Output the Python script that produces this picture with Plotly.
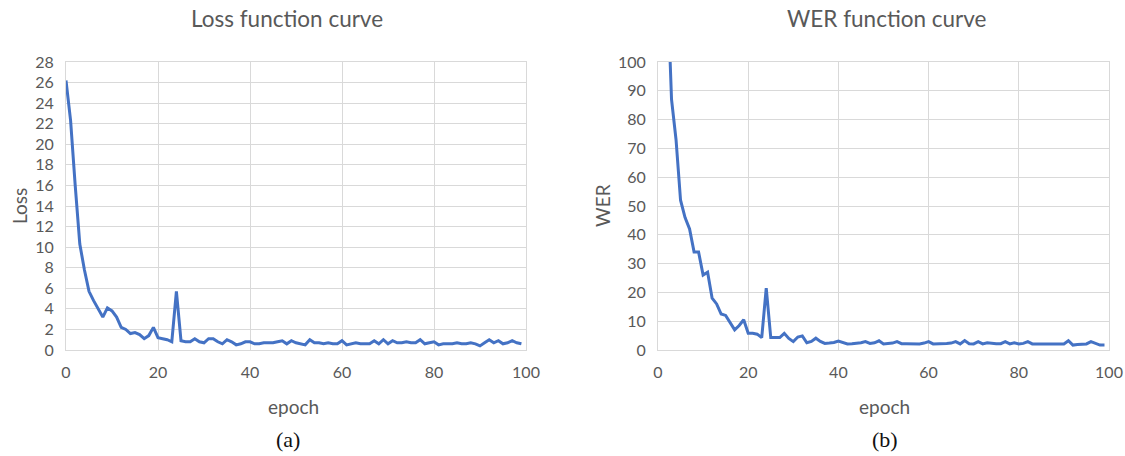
import plotly.graph_objects as go

epochs = list(range(100))

loss = [26.2, 22.3, 16.0, 10.3, 7.8, 5.7, 4.8, 4.0, 3.2, 4.1,
        3.8, 3.2, 2.2, 2.0, 1.6, 1.7, 1.5, 1.1, 1.4, 2.2,
        1.2, 1.1, 1.0, 0.8, 5.7, 0.9, 0.8, 0.8, 1.1, 0.8,
        0.7, 1.1, 1.1, 0.8, 0.6, 1.0, 0.8, 0.5, 0.6, 0.8,
        0.8, 0.6, 0.6, 0.7, 0.7, 0.7, 0.8, 0.9, 0.6, 0.9,
        0.7, 0.6, 0.5, 1.0, 0.7, 0.7, 0.6, 0.7, 0.6, 0.6,
        0.9, 0.5, 0.6, 0.7, 0.6, 0.6, 0.6, 0.9, 0.6, 1.0,
        0.6, 0.9, 0.7, 0.7, 0.8, 0.7, 0.7, 1.0, 0.6, 0.7,
        0.8, 0.5, 0.6, 0.6, 0.6, 0.7, 0.6, 0.6, 0.7, 0.6,
        0.4, 0.7, 1.0, 0.7, 0.9, 0.6, 0.7, 0.9, 0.7, 0.6]

wer = [200, 160, 130, 87, 73, 52, 46, 42, 34, 34,
       26, 27, 18, 16, 12.5, 12, 9.5, 7, 8.5, 10.5,
       5.8, 5.8, 5.5, 4.3, 21.5, 4.3, 4.3, 4.3, 5.8, 4.0,
       2.9, 4.5, 4.9, 2.5, 3.0, 4.1, 3.0, 2.3, 2.4, 2.6,
       3.1, 2.7, 2.1, 2.2, 2.3, 2.5, 2.9, 2.3, 2.5, 3.2,
       2.1, 2.2, 2.4, 2.9, 2.2, 2.2, 2.1, 2.1, 2.1, 2.4,
       2.9, 2.1, 2.1, 2.2, 2.3, 2.4, 2.9, 2.1, 3.3, 2.2,
       2.1, 2.9, 2.1, 2.5, 2.3, 2.2, 2.2, 2.9, 2.1, 2.5,
       2.1, 2.3, 2.9, 2.1, 2.1, 2.1, 2.1, 2.1, 2.1, 2.1,
       2.1, 3.2, 1.7, 1.9, 2.0, 2.1, 2.9, 2.2, 1.7, 1.7]

titles = ["Loss function curve", "WER function curve"]
ytitles = ["Loss", "WER"]
xtitle = "epoch"
captions = ["(a)", "(b)"]

W, H = 1125, 456
LINE = "#4472C4"
GRID = "#d9d9d9"
TXT = "#595959"
FONT = "Lato, Open Sans, sans-serif"

fig = go.Figure()
fig.add_trace(go.Scatter(x=epochs, y=loss, mode="lines", xaxis="x", yaxis="y",
                         line=dict(color=LINE, width=3), showlegend=False))
fig.add_trace(go.Scatter(x=epochs, y=wer, mode="lines", xaxis="x2", yaxis="y2",
                         line=dict(color=LINE, width=3), showlegend=False))

# pixel positions of plot areas
L1, R1 = 66, 526
L2, R2 = 658, 1109
TOP, BOT = 62, 350

def px(x):
    return x / W

def py(y):
    return 1 - y / H

ax_common = dict(showgrid=True, gridcolor=GRID, gridwidth=1, showline=True,
                 linecolor=GRID, linewidth=1, mirror=True, zeroline=False,
                 automargin=False, ticks="",
                 tickfont=dict(family=FONT, size=16, color=TXT))

fig.update_layout(
    width=W, height=H, margin=dict(l=0, r=0, t=0, b=0),
    paper_bgcolor="white", plot_bgcolor="white",
    xaxis=dict(domain=[px(L1), px(R1)], range=[0, 100], dtick=20, anchor="y",
               ticklabelstandoff=8, **ax_common),
    yaxis=dict(domain=[py(BOT), py(TOP)], range=[0, 28], dtick=2, anchor="x",
               ticklabelstandoff=8, **ax_common),
    xaxis2=dict(domain=[px(L2), px(R2)], range=[0, 100], dtick=20, anchor="y2",
                ticklabelstandoff=8, **ax_common),
    yaxis2=dict(domain=[py(BOT), py(TOP)], range=[0, 100], dtick=10, anchor="x2",
                ticklabelstandoff=8, **ax_common),
)

anns = []
title_cx = [287, 887]
x_cx = [294, 884]
cap_cx = [288, 885]
ylab_x = [20, 603]
common = dict(xref="paper", yref="paper", showarrow=False, xanchor="center", yanchor="middle")
for i in range(2):
    anns.append(dict(text=titles[i], x=px(title_cx[i]), y=py(19),
                     font=dict(family=FONT, size=22.5, color=TXT), **common))
    anns.append(dict(text=xtitle, x=px(x_cx[i]), y=py(406),
                     font=dict(family=FONT, size=19, color=TXT), **common))
    anns.append(dict(text=ytitles[i], x=px(ylab_x[i]), y=py(206), textangle=-90,
                     font=dict(family=FONT, size=19, color=TXT), **common))
    anns.append(dict(text=captions[i], x=px(cap_cx[i]), y=py(439),
                     font=dict(family="Liberation Serif, serif", size=22, color="#111"), **common))
fig.update_layout(annotations=anns)

fig.write_html("out.html", config={"displayModeBar": False},
               post_script="document.body.style.margin='0';")
